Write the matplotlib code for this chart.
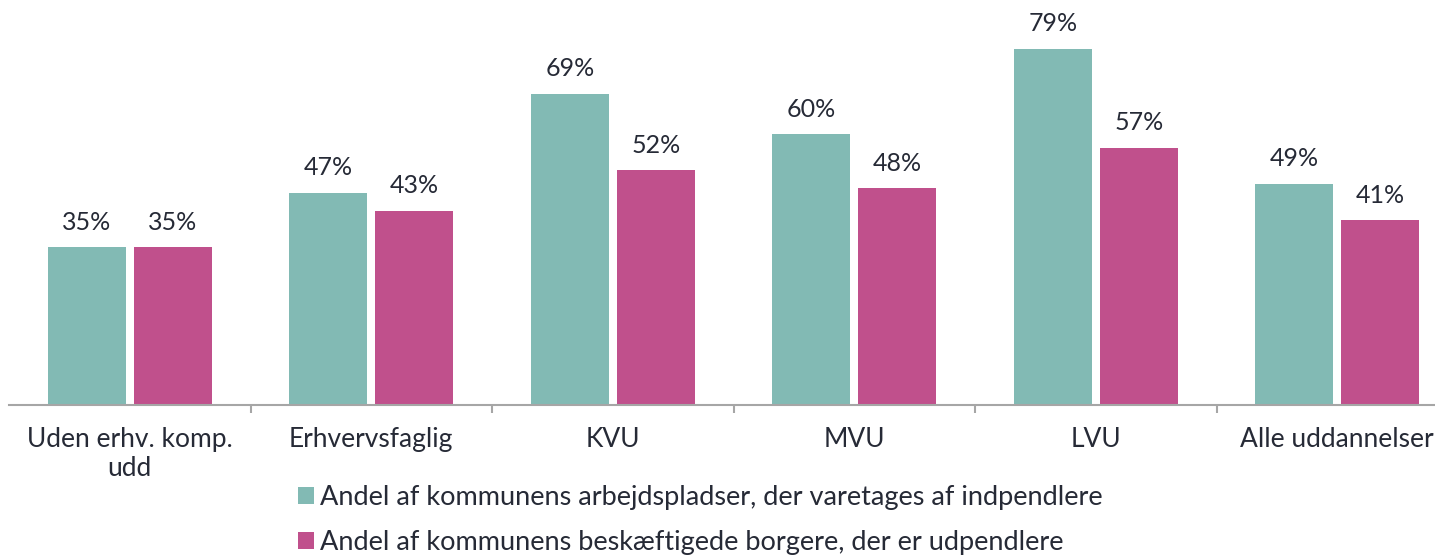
import numpy as np
import matplotlib
matplotlib.use('Agg')
import matplotlib.pyplot as plt

categories = ["Uden erhv. komp.\nudd", "Erhvervsfaglig", "KVU", "MVU", "LVU", "Alle uddannelser"]
indpendlere = [35, 47, 69, 60, 79, 49]
udpendlere = [35, 43, 52, 48, 57, 41]
series_names = ["Andel af kommunens arbejdspladser, der varetages af indpendlere",
                "Andel af kommunens beskæftigede borgere, der er udpendlere"]

teal = "#82BAB4"
magenta = "#C0508C"
txt = "#262A36"
plt.rcParams['font.family'] = ['Lato', 'DejaVu Sans']

fig = plt.figure(figsize=(14.35, 5.57), dpi=100)
ax = fig.add_axes([9/1435, 152/557, 1449/1435, 406/557])

x = np.arange(len(categories))
w = 0.323
off = 0.178
b1 = ax.bar(x - off, indpendlere, w, color=teal, label=series_names[0])
b2 = ax.bar(x + off, udpendlere, w, color=magenta, label=series_names[1])

for bars, vals in [(b1, indpendlere), (b2, udpendlere)]:
    for rect, v in zip(bars, vals):
        ax.text(rect.get_x() + rect.get_width()/2, v + 3.0, f"{v}%",
                ha='center', va='bottom', fontsize=18, color=txt)

ax.set_xlim(-0.5, 5.5)
ax.set_ylim(0, 90)
ax.set_yticks([])
for s in ['top', 'right', 'left']:
    ax.spines[s].set_visible(False)
ax.spines['bottom'].set_color('#A6A6A6')
ax.spines['bottom'].set_linewidth(1.5)

ax.set_xticks(x)
ax.set_xticklabels(categories, fontsize=19, color=txt, linespacing=1.2)
ax.tick_params(axis='x', length=0, pad=16)
ax.set_xticks(x[:-1] + 0.5, minor=True)
ax.tick_params(axis='x', which='minor', length=6, color='#A6A6A6', width=1.5)

fig.legend(loc='center', bbox_to_anchor=(700/1435, 1 - 520/557), ncol=1, frameon=False,
           fontsize=19.5, handlelength=0.6, handleheight=0.6, handletextpad=0.2,
           labelspacing=0.75, labelcolor=txt)

fig.savefig("out.png", dpi=100)
